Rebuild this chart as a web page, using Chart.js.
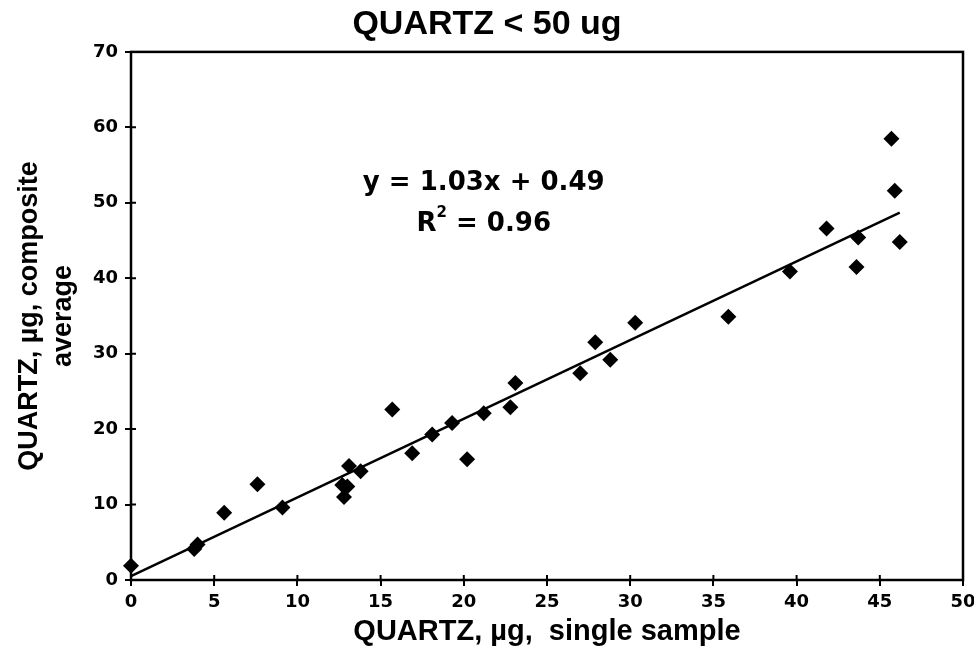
<!DOCTYPE html>
<html>
<head>
<meta charset="utf-8">
<script src="https://cdn.jsdelivr.net/npm/chart.js@4.4.1/dist/chart.umd.min.js"></script>
<style>
  html, body { margin: 0; padding: 0; background: #fff; }
  #wrap { width: 974px; height: 660px; }
</style>
</head>
<body>
<div id="wrap"><canvas id="quartz" width="974" height="660"></canvas></div>
<script>
// single sample vs composite average (ug)
const singleX = [0, 3.8, 4.0, 5.6, 7.6, 9.1, 12.7, 12.8, 13.0, 13.1, 13.8, 15.7, 16.9, 18.1, 19.3, 20.2,
  21.2, 22.8, 23.1, 27.0, 27.9, 28.8, 30.3, 35.9, 39.6, 41.8, 43.6, 43.7, 45.7, 45.9, 46.2];
const compositeY = [1.9, 4.1, 4.7, 8.9, 12.7, 9.6, 12.6, 11.0, 12.4, 15.1, 14.4, 22.6, 16.8, 19.3, 20.8, 16.0,
  22.1, 22.9, 26.1, 27.4, 31.5, 29.2, 34.1, 34.9, 40.9, 46.6, 41.5, 45.4, 58.5, 51.6, 44.8];
// fitted line ends, as drawn
const trendX = [0, 46.2];
const trendY = [0.5, 48.7];
const fitLabel = ["y = 1.03x + 0.49", "R", "2", " = 0.96"];

const sans = "'Liberation Sans', Arial, sans-serif";
const wide = "'DejaVu Sans', sans-serif";

const frame = {
  id: 'frame',
  afterDraw(chart) {
    const { ctx, chartArea: a, scales } = chart;
    ctx.save();
    ctx.strokeStyle = '#000';
    ctx.lineWidth = 2.5;
    ctx.strokeRect(a.left, a.top, a.right - a.left, a.bottom - a.top);
    // inner half of the tick marks
    ctx.lineWidth = 2;
    ctx.beginPath();
    scales.x.ticks.forEach(t => {
      const px = scales.x.getPixelForValue(t.value);
      ctx.moveTo(px, a.bottom); ctx.lineTo(px, a.bottom - 5);
    });
    scales.y.ticks.forEach(t => {
      const py = scales.y.getPixelForValue(t.value);
      ctx.moveTo(a.left, py); ctx.lineTo(a.left + 5, py);
    });
    ctx.stroke();
    // equation text
    const cx = scales.x.getPixelForValue(21.2);
    ctx.fillStyle = '#000';
    ctx.textAlign = 'center';
    ctx.textBaseline = 'middle';
    ctx.font = "bold 26px " + wide;
    ctx.fillText(fitLabel[0], cx, scales.y.getPixelForValue(52.6));
    const yR = scales.y.getPixelForValue(47.2);
    const w1 = ctx.measureText(fitLabel[1]).width;
    const w3 = ctx.measureText(fitLabel[3]).width;
    ctx.font = "bold 15px " + wide;
    const w2 = ctx.measureText(fitLabel[2]).width;
    let x0 = cx - (w1 + w2 + w3) / 2;
    ctx.textAlign = 'left';
    ctx.font = "bold 26px " + wide;
    ctx.fillText(fitLabel[1], x0, yR);
    ctx.font = "bold 15px " + wide;
    ctx.fillText(fitLabel[2], x0 + w1, yR - 11);
    ctx.font = "bold 26px " + wide;
    ctx.fillText(fitLabel[3], x0 + w1 + w2, yR);
    ctx.restore();
  }
};

new Chart(document.getElementById('quartz'), {
  type: 'scatter',
  data: {
    datasets: [
      {
        label: 'samples',
        data: singleX.map((x, i) => ({ x: x, y: compositeY[i] })),
        pointStyle: 'rectRot',
        pointRadius: 8,
        backgroundColor: '#000',
        borderColor: '#000',
        borderWidth: 0,
        clip: false
      },
      {
        type: 'line',
        label: 'fit',
        data: trendX.map((x, i) => ({ x: x, y: trendY[i] })),
        borderColor: '#000',
        borderWidth: 2.5,
        pointRadius: 0,
        fill: false
      }
    ]
  },
  options: {
    responsive: false,
    animation: false,
    layout: { padding: { left: 0, right: 0, top: 0, bottom: 0 } },
    plugins: {
      legend: { display: false },
      tooltip: { enabled: false },
      title: {
        display: true,
        text: 'QUARTZ < 50 ug',
        color: '#000',
        font: { family: sans, size: 34, weight: 'bold' },
        padding: { top: 4.5, bottom: 6.6 }
      }
    },
    scales: {
      x: {
        type: 'linear',
        min: 0, max: 50,
        afterFit: s => { s.height = 80; s.paddingRight = 11; },
        ticks: { stepSize: 5, color: '#000', padding: 6, font: { family: wide, size: 18, weight: 'bold' } },
        grid: { drawOnChartArea: false, tickLength: 6, color: '#000', lineWidth: 2 },
        border: { display: false },
        title: {
          display: true,
          text: 'QUARTZ, \u00b5g,  single sample',
          color: '#000',
          font: { family: sans, size: 29, weight: 'bold' },
          padding: { top: 0, bottom: 10.6 }
        }
      },
      y: {
        type: 'linear',
        min: 0, max: 70,
        afterFit: s => { s.width = 131; },
        ticks: { stepSize: 10, color: '#000', padding: 7, font: { family: wide, size: 18, weight: 'bold' } },
        grid: { drawOnChartArea: false, tickLength: 6, color: '#000', lineWidth: 2 },
        border: { display: false },
        title: {
          display: true,
          text: ['QUARTZ, \u00b5g, composite', 'average'],
          color: '#000',
          font: { family: sans, size: 27, weight: 'bold', lineHeight: 1.25 },
          padding: { top: 13, bottom: 0 }
        }
      }
    }
  },
  plugins: [frame]
});
</script>
</body>
</html>
